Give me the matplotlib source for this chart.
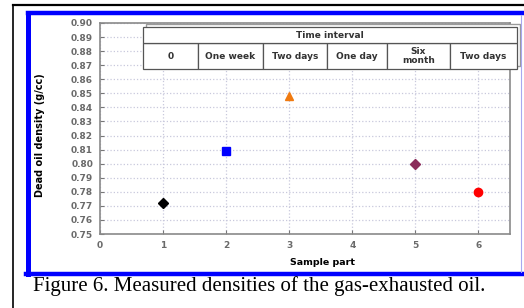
import matplotlib
matplotlib.use("Agg")
import matplotlib.pyplot as plt
from matplotlib.patches import Rectangle
from matplotlib.lines import Line2D

# Daten
sample_part = [1, 2, 3, 5, 6]
density = [0.772, 0.809, 0.848, 0.800, 0.780]
marker_styles = ["D", "s", "^", "D", "o"]
marker_colors = ["#000000", "#0000ff", "#f07a10", "#8b2c5a", "#ff0000"]
interval_labels = ["0", "One week", "Two days", "One day", "Six\nmonth", "Two days"]
interval_header = "Time interval"
y_ticks = [0.75 + 0.01 * i for i in range(16)]
x_ticks = [0, 1, 2, 3, 4, 5, 6]

W, H = 524, 308
fig = plt.figure(figsize=(W / 100, H / 100), dpi=100)
fig.patch.set_facecolor("white")

def fx(px):
    return px / W

def fy(py):
    return 1 - py / H

# Rahmen der Seite (schwarz) und blauer Bildrahmen
fig.add_artist(Line2D([fx(13), fx(13)], [fy(5), fy(308)], color="black", lw=1.2))
fig.add_artist(Line2D([fx(13), fx(524)], [fy(5), fy(5)], color="black", lw=1.6))
fig.add_artist(Line2D([fx(27.5), fx(524)], [fy(13), fy(13)], color="#0000ff", lw=3.2))
fig.add_artist(Line2D([fx(27.5), fx(27.5)], [fy(13), fy(274)], color="#0000ff", lw=3.6))
fig.add_artist(Line2D([fx(25.5), fx(524)], [fy(274), fy(274)], color="#0000ff", lw=3.2))
fig.add_artist(Line2D([fx(521), fx(521)], [fy(15), fy(272)], color="#a8a8f0", lw=0.8))

ax = fig.add_axes([fx(100), fy(234), fx(510) - fx(100), fy(23) - fy(234)])

for x, y, m, c in zip(sample_part, density, marker_styles, marker_colors):
    size = 5 if m == "D" else 6
    ax.plot(x, y, marker=m, color=c, markersize=size, linestyle="none", zorder=3)

ax.set_xlim(0, 6.5)
ax.set_ylim(0.75, 0.90)
ax.set_xticks(x_ticks)
ax.set_yticks(y_ticks)
ax.set_xticklabels([str(v) for v in x_ticks])
ax.set_yticklabels([f"{v:.2f}" for v in y_ticks])
ax.tick_params(direction="in", length=3, width=0.8, color="#777777",
               labelsize=6.5, labelcolor="#6a6a6a", pad=5)
for lab in ax.get_xticklabels() + ax.get_yticklabels():
    lab.set_fontweight("bold")
for sp in ax.spines.values():
    sp.set_color("#8a8a8a")
    sp.set_linewidth(1.2)
ax.grid(True, linestyle=":", color="#c8c8dc", linewidth=0.9)
ax.set_axisbelow(True)

ax.set_ylabel("Dead oil density (g/cc)", fontsize=7, fontweight="bold")
ax.yaxis.set_label_coords((45 - 100) / 410, 0.47)
ax.set_xlabel("Sample part", fontsize=6.8, fontweight="bold")
ax.xaxis.set_label_coords((322 - 100) / 410, -(258 - 234) / 211)

# Tabelle mit Zeitintervallen
widths = [55, 65, 64, 60, 63, 67]
total = sum(widths)
x0, x1 = 0.105, 1.017
y_bot, y_mid, y_top = 0.782, 0.905, 0.981

shadow = Rectangle((x0 + 0.008, y_bot + 0.015), x1 - x0, y_top - y_bot,
                   transform=ax.transAxes, facecolor="white", edgecolor="#9a9a9a",
                   lw=1.0, clip_on=False, zorder=4)
ax.add_patch(shadow)

body = ax.table(cellText=[interval_labels], colWidths=[w / total for w in widths],
                cellLoc="center", bbox=[x0, y_bot, x1 - x0, y_mid - y_bot])
head = ax.table(cellText=[[interval_header]], colWidths=[1.0],
                cellLoc="center", bbox=[x0, y_mid, x1 - x0, y_top - y_mid])
for tbl in (body, head):
    tbl.auto_set_font_size(False)
    tbl.set_fontsize(6.5)
    tbl.set_zorder(5)
    tbl.set_clip_on(False)
    for cell in tbl.get_celld().values():
        cell.set_edgecolor("#555555")
        cell.set_linewidth(0.9)
        cell.get_text().set_fontweight("bold")
        cell.get_text().set_color("#333333")
        cell.get_text().set_linespacing(1.0)
        cell.set_clip_on(False)

# Bildunterschrift
fig.text(fx(33), fy(286), "Figure 6. Measured densities of the gas-exhausted oil.",
         fontsize=15, family="Liberation Serif", ha="left", va="center")

fig.savefig("out.png", dpi=100)
